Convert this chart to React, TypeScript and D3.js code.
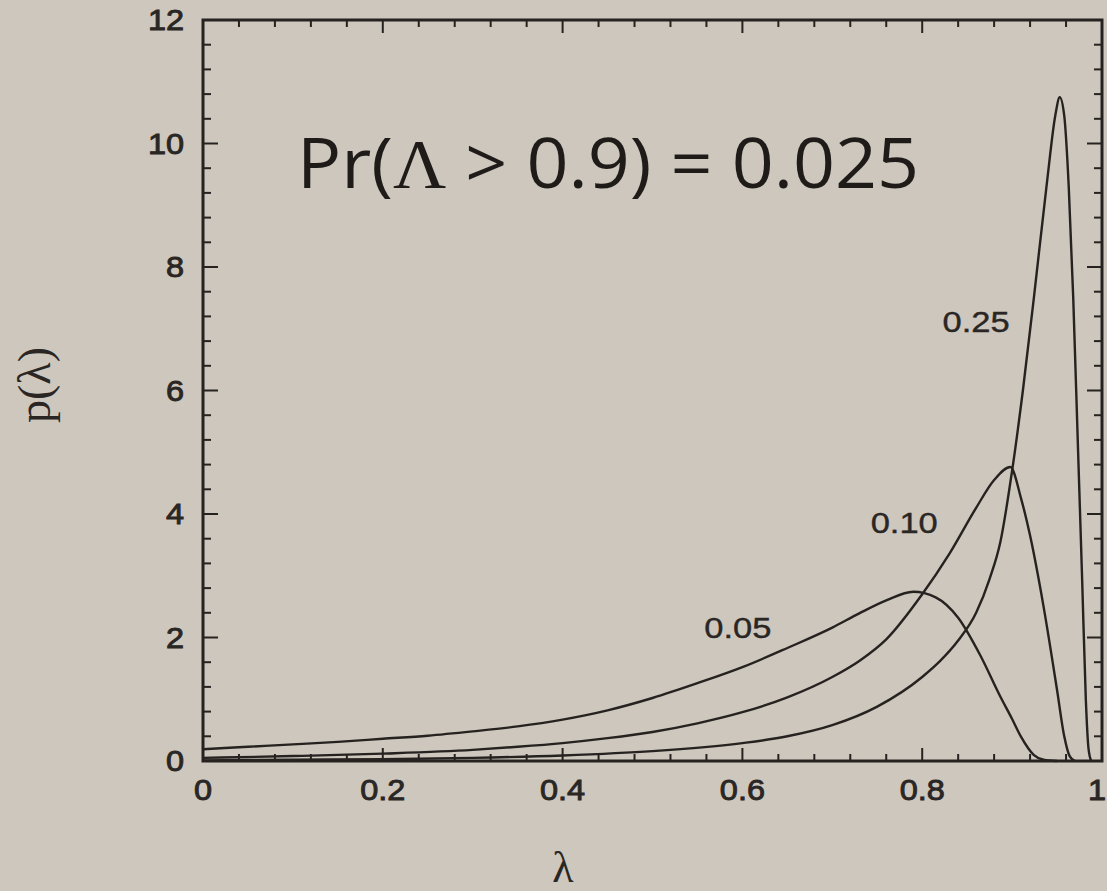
import React from "react";
import * as d3 from "d3";

// ---- data ----
const lambda05 = [0, 0.05, 0.1, 0.15, 0.2, 0.25, 0.3, 0.35, 0.4, 0.45, 0.5, 0.55, 0.6, 0.65, 0.7, 0.73, 0.76, 0.79, 0.815, 0.84, 0.865, 0.887, 0.9, 0.91, 0.924, 0.935, 0.95];
const p05 = [0.19, 0.23, 0.27, 0.31, 0.36, 0.41, 0.48, 0.56, 0.67, 0.82, 1.02, 1.26, 1.52, 1.83, 2.16, 2.39, 2.6, 2.74, 2.65, 2.32, 1.7, 1.04, 0.68, 0.39, 0.1, 0.02, 0];

const lambda10 = [0, 0.1, 0.2, 0.3, 0.35, 0.4, 0.45, 0.5, 0.55, 0.6, 0.65, 0.7, 0.73, 0.76, 0.8, 0.83, 0.86, 0.88, 0.898, 0.91, 0.92, 0.935, 0.95, 0.958, 0.964, 0.97];
const p10 = [0.05, 0.08, 0.12, 0.18, 0.23, 0.29, 0.37, 0.47, 0.61, 0.79, 1.03, 1.36, 1.62, 1.97, 2.7, 3.35, 4.1, 4.55, 4.76, 4.25, 3.65, 2.5, 1.15, 0.4, 0.08, 0];

const lambda25 = [0, 0.1, 0.2, 0.3, 0.4, 0.5, 0.6, 0.65, 0.7, 0.75, 0.8, 0.82, 0.84, 0.86, 0.875, 0.887, 0.9, 0.912, 0.925, 0.939, 0.948, 0.953, 0.958, 0.963, 0.968, 0.973, 0.978, 0.982, 0.985, 0.988];
const p25 = [0.01, 0.02, 0.03, 0.05, 0.09, 0.16, 0.29, 0.4, 0.58, 0.88, 1.36, 1.62, 1.95, 2.4, 2.95, 3.55, 4.7, 6.0, 7.6, 9.4, 10.45, 10.75, 10.45, 9.3, 7.5, 5.2, 2.9, 1.0, 0.2, 0];

const curveLabels = ["0.05", "0.10", "0.25"];
const labelAt = [[0.595, 2.0], [0.78, 3.7], [0.86, 6.95]]; // (lambda, p) label anchor positions

const xTickLabels = ["0", "0.2", "0.4", "0.6", "0.8", "1"];
const yTickLabels = ["0", "2", "4", "6", "8", "10", "12"];

const title = ["Pr(", "Λ", " > 0.9) = 0.025"];

export default function App() {
  const W = 1107, H = 891;
  const left = 203, right = 1102, top = 20, bottom = 761;
  const x = d3.scaleLinear().domain([0, 1]).range([left, right]);
  const y = d3.scaleLinear().domain([0, 12]).range([bottom, top]);

  const line = d3
    .line<[number, number]>()
    .x((d) => x(d[0]))
    .y((d) => y(d[1]))
    .curve(d3.curveMonotoneX);

  const series = [
    lambda05.map((v, i) => [v, p05[i]] as [number, number]),
    lambda10.map((v, i) => [v, p10[i]] as [number, number]),
    lambda25.map((v, i) => [v, p25[i]] as [number, number]),
  ];

  const ink = "#262220";
  const bg = "#cdc7bd";

  const xMinor = d3.range(0, 1.0001, 0.04);
  const yMinor = d3.range(0, 12.0001, 0.4);
  const isMajorX = (v: number) => Math.abs(v * 5 - Math.round(v * 5)) < 1e-6;
  const isMajorY = (v: number) => Math.abs(v / 2 - Math.round(v / 2)) < 1e-6;

  const tickFont = {
    fontFamily: "'Liberation Sans', Arial, sans-serif",
    fontSize: 29,
    fill: "#2a2624",
    stroke: "#2a2624",
    strokeWidth: 0.9,
  } as const;

  return (
    <svg
      width={W}
      height={H}
      style={{ position: "absolute", left: 0, top: 0, background: bg }}
    >
      <rect x={0} y={0} width={W} height={H} fill={bg} />
      {/* ticks */}
      {xMinor.map((v, i) => {
        const maj = isMajorX(v);
        return (
          <g key={"xt" + i} stroke={ink} strokeWidth={2}>
            <line x1={x(v)} x2={x(v)} y1={bottom} y2={bottom - (maj ? 13 : 7)} />
            <line x1={x(v)} x2={x(v)} y1={top} y2={top + (maj ? 13 : 7)} />
          </g>
        );
      })}
      {yMinor.map((v, i) => {
        const maj = isMajorY(v);
        return (
          <g key={"yt" + i} stroke={ink} strokeWidth={2}>
            <line x1={left} x2={left + (maj ? 15 : 8)} y1={y(v)} y2={y(v)} />
            <line x1={right} x2={right - (maj ? 15 : 8)} y1={y(v)} y2={y(v)} />
          </g>
        );
      })}
      {/* frame */}
      <rect
        x={left}
        y={top}
        width={right - left}
        height={bottom - top}
        fill="none"
        stroke={ink}
        strokeWidth={3}
      />
      {/* curves */}
      {series.map((s, i) => (
        <path key={"c" + i} d={line(s) || ""} fill="none" stroke={ink} strokeWidth={2.4} />
      ))}
      {/* curve labels */}
      {curveLabels.map((t, i) => (
        <text
          key={"cl" + i}
          transform={`translate(${x(labelAt[i][0])},${y(labelAt[i][1])}) scale(1.15,1)`}
          textAnchor="middle"
          {...tickFont}
          fontSize={30}
          strokeWidth={0.4}
        >
          {t}
        </text>
      ))}
      {/* x tick labels */}
      {xTickLabels.map((t, i) => {
        const last = i === xTickLabels.length - 1;
        return (
          <text
            key={"xl" + i}
            transform={`translate(${last ? W - 1 : x(i * 0.2)},${bottom + 39}) scale(1.12,1)`}
            textAnchor={last ? "end" : "middle"}
            {...tickFont}
          >
            {t}
          </text>
        );
      })}
      {/* y tick labels */}
      {yTickLabels.map((t, i) => (
        <text
          key={"yl" + i}
          transform={`translate(${left - 19},${y(i * 2) + 10}) scale(1.12,1)`}
          textAnchor="end"
          {...tickFont}
        >
          {t}
        </text>
      ))}
      {/* axis titles */}
      <text
        transform={`translate(50,385) rotate(-90)`}
        textAnchor="middle"
        fontFamily="'Liberation Serif', 'DejaVu Serif', serif"
        fontSize={46}
        fill="#2a2624"
      >
        p(λ)
      </text>
      <text
        x={563}
        y={882}
        textAnchor="middle"
        fontFamily="'Liberation Serif', 'DejaVu Serif', serif"
        fontSize={44}
        fill="#2a2624"
      >
        λ
      </text>
      {/* annotation */}
      <text
        transform="translate(297,188) scale(1.05,1)"
        fontFamily="'Open Sans', 'Noto Sans', sans-serif"
        fontSize={70}
        fill="#1f1b19"
      >
        {title[0]}
        <tspan fontFamily="'Liberation Serif', serif">{title[1]}</tspan>
        {title[2]}
      </text>
    </svg>
  );
}
